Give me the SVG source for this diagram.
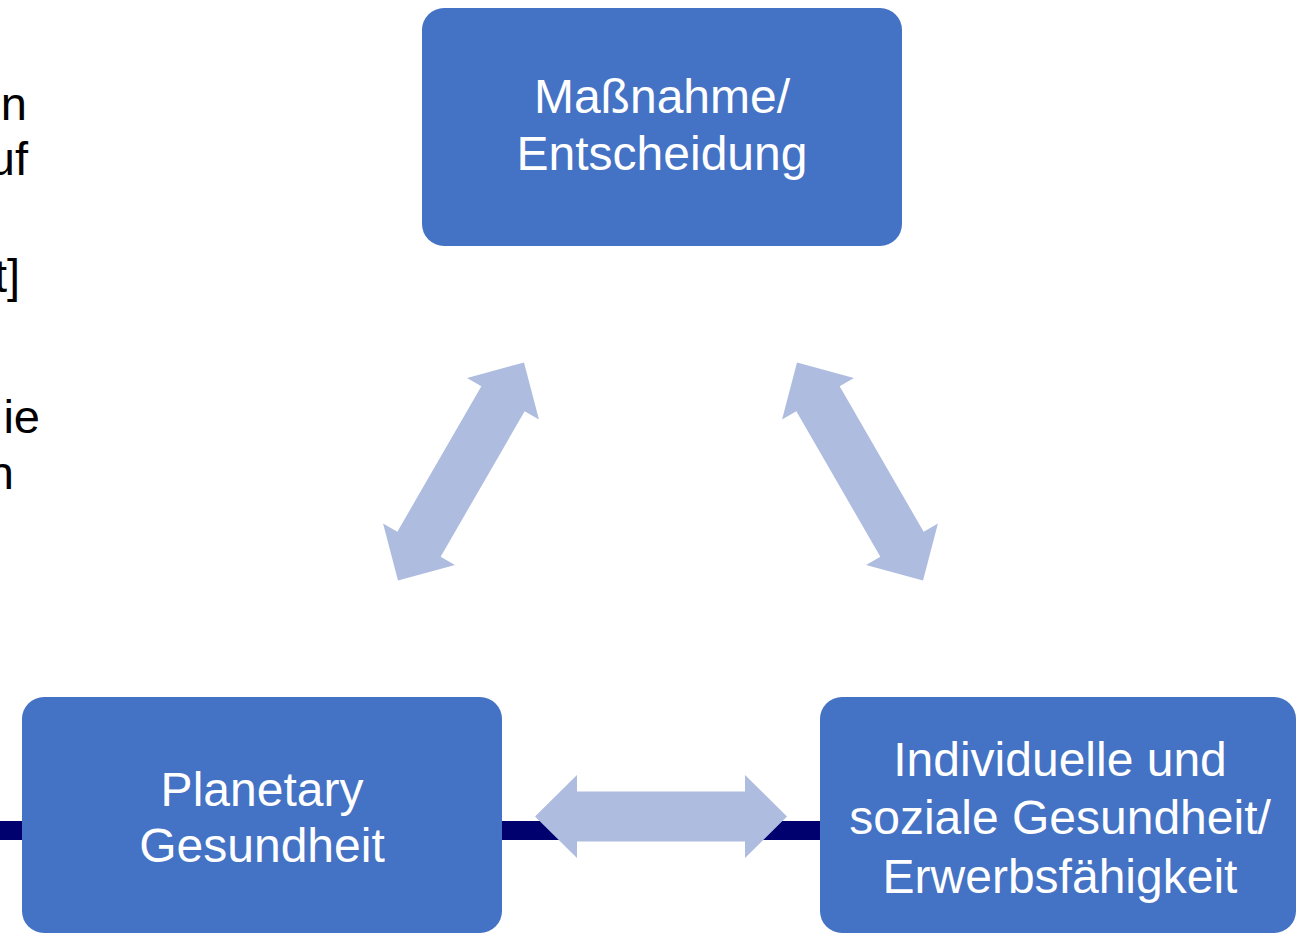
<svg xmlns="http://www.w3.org/2000/svg" width="1296" height="933" viewBox="0 0 1296 933">
  <defs>
    <style>
      .box { fill: #4472C4; }
      .lbl { font-family: "Liberation Sans", Arial, sans-serif; font-size: 48px; fill: #FFFFFF; text-anchor: middle; }
      .frag { font-family: "Liberation Sans", Arial, sans-serif; font-size: 47px; fill: #000000; text-anchor: end; }
      .darr { fill: #AEBCDF; }
    </style>
    <polygon id="dblArrow" points="-126,0 -84,-41.5 -84,-25 84,-25 84,-41.5 126,0 84,41.5 84,25 -84,25 -84,41.5"/>
  </defs>

  <g id="side-text">
    <text class="frag" x="27" y="120">n</text>
    <text class="frag" x="28" y="175">uf</text>
    <text class="frag" x="20" y="292">t]</text>
    <text class="frag" x="40" y="433">ie</text>
    <text class="frag" x="14" y="489">n</text>
  </g>

  <g id="connectors">
    <rect x="0" y="821" width="820" height="19" fill="#00006E"/>
    <use href="#dblArrow" class="darr" transform="translate(661,816.5)"/>
    <use href="#dblArrow" class="darr" transform="translate(461,471.5) rotate(-60)"/>
    <use href="#dblArrow" class="darr" transform="translate(860,471.5) rotate(60)"/>
  </g>

  <g id="node-massnahme">
    <rect class="box" x="422" y="8" width="480" height="238" rx="22"/>
    <text class="lbl" x="662" y="113">Maßnahme/</text>
    <text class="lbl" x="662" y="170">Entscheidung</text>
  </g>

  <g id="node-planetary">
    <rect class="box" x="22" y="697" width="480" height="236" rx="22"/>
    <text class="lbl" x="262" y="806">Planetary</text>
    <text class="lbl" x="262" y="862">Gesundheit</text>
  </g>

  <g id="node-individuelle">
    <rect class="box" x="820" y="697" width="476" height="236" rx="22"/>
    <text class="lbl" x="1060" y="776">Individuelle und</text>
    <text class="lbl" x="1060" y="834">soziale Gesundheit/</text>
    <text class="lbl" x="1060" y="893">Erwerbsfähigkeit</text>
  </g>
</svg>
